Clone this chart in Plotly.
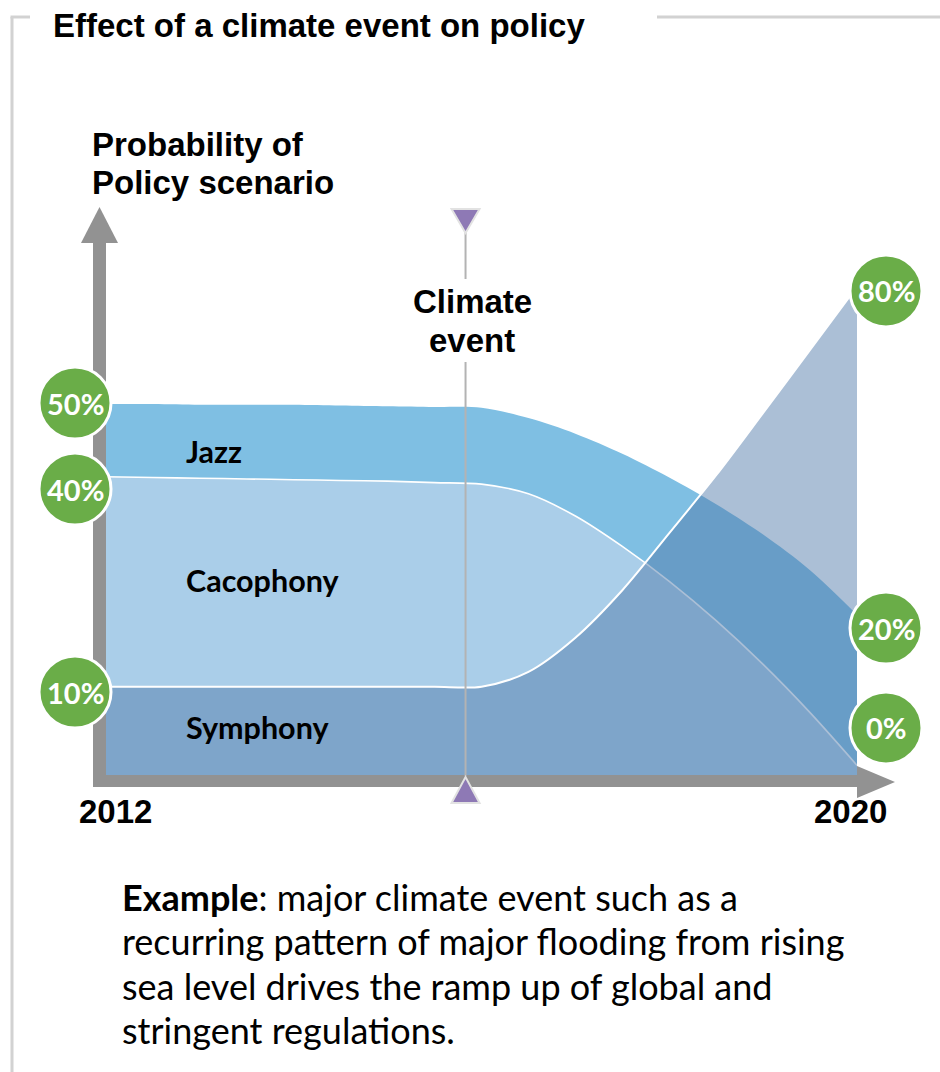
import plotly.graph_objects as go

# ---------------- data ----------------
years = [2012, 2012.5, 2013, 2013.5, 2014, 2014.5, 2015, 2015.5, 2016,
         2016.5, 2017, 2017.5, 2018, 2018.5, 2019, 2019.5, 2020]
jazz = [50.0, 50.0, 49.9, 49.9, 49.9, 49.8, 49.7, 49.6, 49.5,
        48.1, 46.0, 43.3, 40.1, 36.5, 32.4, 27.6, 21.6]
cacophony = [40.2, 40.1, 40.0, 39.9, 39.8, 39.7, 39.6, 39.4, 39.2,
             37.9, 34.9, 30.8, 26.1, 20.8, 14.9, 8.4, 1.3]
symphony = [11.9, 11.9, 11.9, 11.9, 11.9, 11.9, 11.9, 11.9, 11.9,
            13.9, 18.5, 24.9, 32.6, 40.4, 48.8, 57.3, 65.8]

series_names = ["Jazz", "Cacophony", "Symphony"]
start_labels = ["50%", "40%", "10%"]   # Jazz, Cacophony, Symphony in 2012
end_labels = ["20%", "0%", "80%"]      # Jazz, Cacophony, Symphony in 2020
event_year = 2015.83
event_label = ["Climate", "event"]
year_labels = ["2012", "2020"]
y_title = ["Probability of", "Policy scenario"]
title_text = "Effect of a climate event on policy"
note_lines = [
    "<b>Example</b>: major climate event such as a",
    "recurring pattern of major flooding from rising",
    "sea level drives the ramp up of global and",
    "stringent regulations.",
]

# ---------------- styling ----------------
W, H = 940, 1072
JAZZ = "#7fbfe3"
CACO = "#aacee9"
SYMPH = "rgba(80,122,170,0.48)"
GREEN = "#6aad48"
AXIS = "#929292"
FRAME = "#d2d2d2"
EVENT_LINE = "#b3b3b3"
PURPLE = "#8e79b5"
ARIAL = "Liberation Sans, Arial, sans-serif"
CAL = "Lato, sans-serif"

# scale: x 93.875 px per year (2012 at 106px), y 7.42 px per unit (0 at 775px)
XK, YK = 93.875, 7.42
x0 = 2012 - 106 / XK
x1 = x0 + W / XK
y1 = 775 / YK
y0 = y1 - H / YK


def px(x):
    return x / W


def py(y):
    return 1 - y / H


fig = go.Figure()
fig.add_trace(go.Scatter(x=years, y=jazz, mode="lines", name=series_names[0],
                         line=dict(color=JAZZ, width=0, shape="spline", smoothing=0.9),
                         fill="tozeroy", fillcolor=JAZZ, hoverinfo="skip"))
fig.add_trace(go.Scatter(x=years, y=cacophony, mode="lines", name=series_names[1],
                         line=dict(color="white", width=1.6, shape="spline", smoothing=0.9),
                         fill="tozeroy", fillcolor=CACO, hoverinfo="skip"))
fig.add_trace(go.Scatter(x=years, y=symphony, mode="lines", name=series_names[2],
                         line=dict(color="white", width=2, shape="spline", smoothing=0.9),
                         fill="tozeroy", fillcolor=SYMPH, hoverinfo="skip"))

shapes = []
# frame
shapes.append(dict(type="line", xref="paper", yref="paper", x0=px(12), x1=px(12), y0=py(17), y1=py(1072),
                   line=dict(color=FRAME, width=3)))
shapes.append(dict(type="line", xref="paper", yref="paper", x0=px(10.5), x1=px(30), y0=py(17), y1=py(17),
                   line=dict(color=FRAME, width=3)))
shapes.append(dict(type="line", xref="paper", yref="paper", x0=px(657), x1=px(940), y0=py(17), y1=py(17),
                   line=dict(color=FRAME, width=3)))
# axis bars and arrowheads
shapes.append(dict(type="rect", xref="paper", yref="paper", x0=px(93), x1=px(106), y0=py(787), y1=py(242),
                   fillcolor=AXIS, line=dict(width=0)))
shapes.append(dict(type="rect", xref="paper", yref="paper", x0=px(93), x1=px(858), y0=py(787), y1=py(775),
                   fillcolor=AXIS, line=dict(width=0)))
shapes.append(dict(type="path", xref="paper", yref="paper",
                   path=f"M {px(81)},{py(243)} L {px(118)},{py(243)} L {px(99.5)},{py(207)} Z",
                   fillcolor=AXIS, line=dict(width=0)))
shapes.append(dict(type="path", xref="paper", yref="paper",
                   path=f"M {px(857)},{py(766)} L {px(857)},{py(798)} L {px(895)},{py(782)} Z",
                   fillcolor=AXIS, line=dict(width=0)))
# climate event line and markers
shapes.append(dict(type="line", xref="x", yref="paper", x0=event_year, x1=event_year, y0=py(232), y1=py(279),
                   line=dict(color=EVENT_LINE, width=2)))
shapes.append(dict(type="line", xref="x", yref="paper", x0=event_year, x1=event_year, y0=py(362), y1=py(776),
                   line=dict(color=EVENT_LINE, width=2)))
shapes.append(dict(type="path", xref="x", yref="paper", xsizemode="pixel", xanchor=event_year,
                   path=f"M -14,{py(209)} L 14,{py(209)} L 0,{py(233)} Z",
                   fillcolor=PURPLE, line=dict(color="#e2e2e2", width=2)))
shapes.append(dict(type="path", xref="x", yref="paper", xsizemode="pixel", xanchor=event_year,
                   path=f"M -14,{py(803)} L 14,{py(803)} L 0,{py(777)} Z",
                   fillcolor=PURPLE, line=dict(color="#e2e2e2", width=2)))

annotations = []

# green value circles
left_vals = [jazz[0], cacophony[0], symphony[0]]
right_vals = [jazz[-1], cacophony[-1], symphony[-1]]
left_off = [1, -12.3, -5.3]
right_off = [-13.3, 37.4, -4.2]
R = 36
for vals, offs, labels, xa, dx in [(left_vals, left_off, start_labels, years[0], -31),
                                   (right_vals, right_off, end_labels, years[-1], 29)]:
    for v, o, lab in zip(vals, offs, labels):
        shapes.append(dict(type="circle", xref="x", yref="y", xsizemode="pixel", ysizemode="pixel",
                           xanchor=xa, yanchor=v, x0=dx - R, x1=dx + R, y0=o - R, y1=o + R,
                           fillcolor=GREEN, line=dict(color="white", width=3)))
        annotations.append(dict(x=xa, y=v, xref="x", yref="y", xshift=dx, yshift=o, text=lab,
                                showarrow=False, xanchor="center", yanchor="middle",
                                font=dict(family=CAL, size=29, color="white", weight="bold")))

# series labels inside the bands
label_x = 2012.831
label_y = [43.6, 26.3, 6.5]
for name, ly in zip(series_names, label_y):
    annotations.append(dict(x=label_x, y=ly, xref="x", yref="y", text=f"<b>{name}</b>", showarrow=False,
                            xanchor="left", yanchor="middle", font=dict(family=CAL, size=30.5, color="black")))


def text_px(text, x, baseline, size, family, anchor="left", bold=False, asc=0.35):
    return dict(x=px(x), y=py(baseline - asc * size), xref="paper", yref="paper",
                text=f"<b>{text}</b>" if bold else text, showarrow=False,
                xanchor=anchor, yanchor="middle", font=dict(family=family, size=size, color="black"))


annotations.append(text_px(title_text, 51, 37, 33, ARIAL, bold=True))
annotations.append(text_px(y_title[0], 90, 156, 33, ARIAL, bold=True))
annotations.append(text_px(y_title[1], 90, 194, 33, ARIAL, bold=True))
annotations.append(text_px(event_label[0], 472.5, 313.3, 33, ARIAL, anchor="center", bold=True))
annotations.append(text_px(event_label[1], 472.5, 351.7, 33, ARIAL, anchor="center", bold=True))
annotations.append(text_px(year_labels[0], 115.5, 823, 33, ARIAL, anchor="center", bold=True))
annotations.append(text_px(year_labels[1], 850.5, 823, 33, ARIAL, anchor="center", bold=True))
for i, line in enumerate(note_lines):
    annotations.append(text_px(line, 120, 911 + 44.3 * i, 36, CAL, asc=0.387))

fig.update_layout(
    width=W, height=H, margin=dict(l=0, r=0, t=0, b=0),
    paper_bgcolor="white", plot_bgcolor="white", showlegend=False,
    xaxis=dict(visible=False, range=[x0, x1], fixedrange=True),
    yaxis=dict(visible=False, range=[y0, y1], fixedrange=True),
    shapes=shapes, annotations=annotations,
)
fig.write_html("out.html")
